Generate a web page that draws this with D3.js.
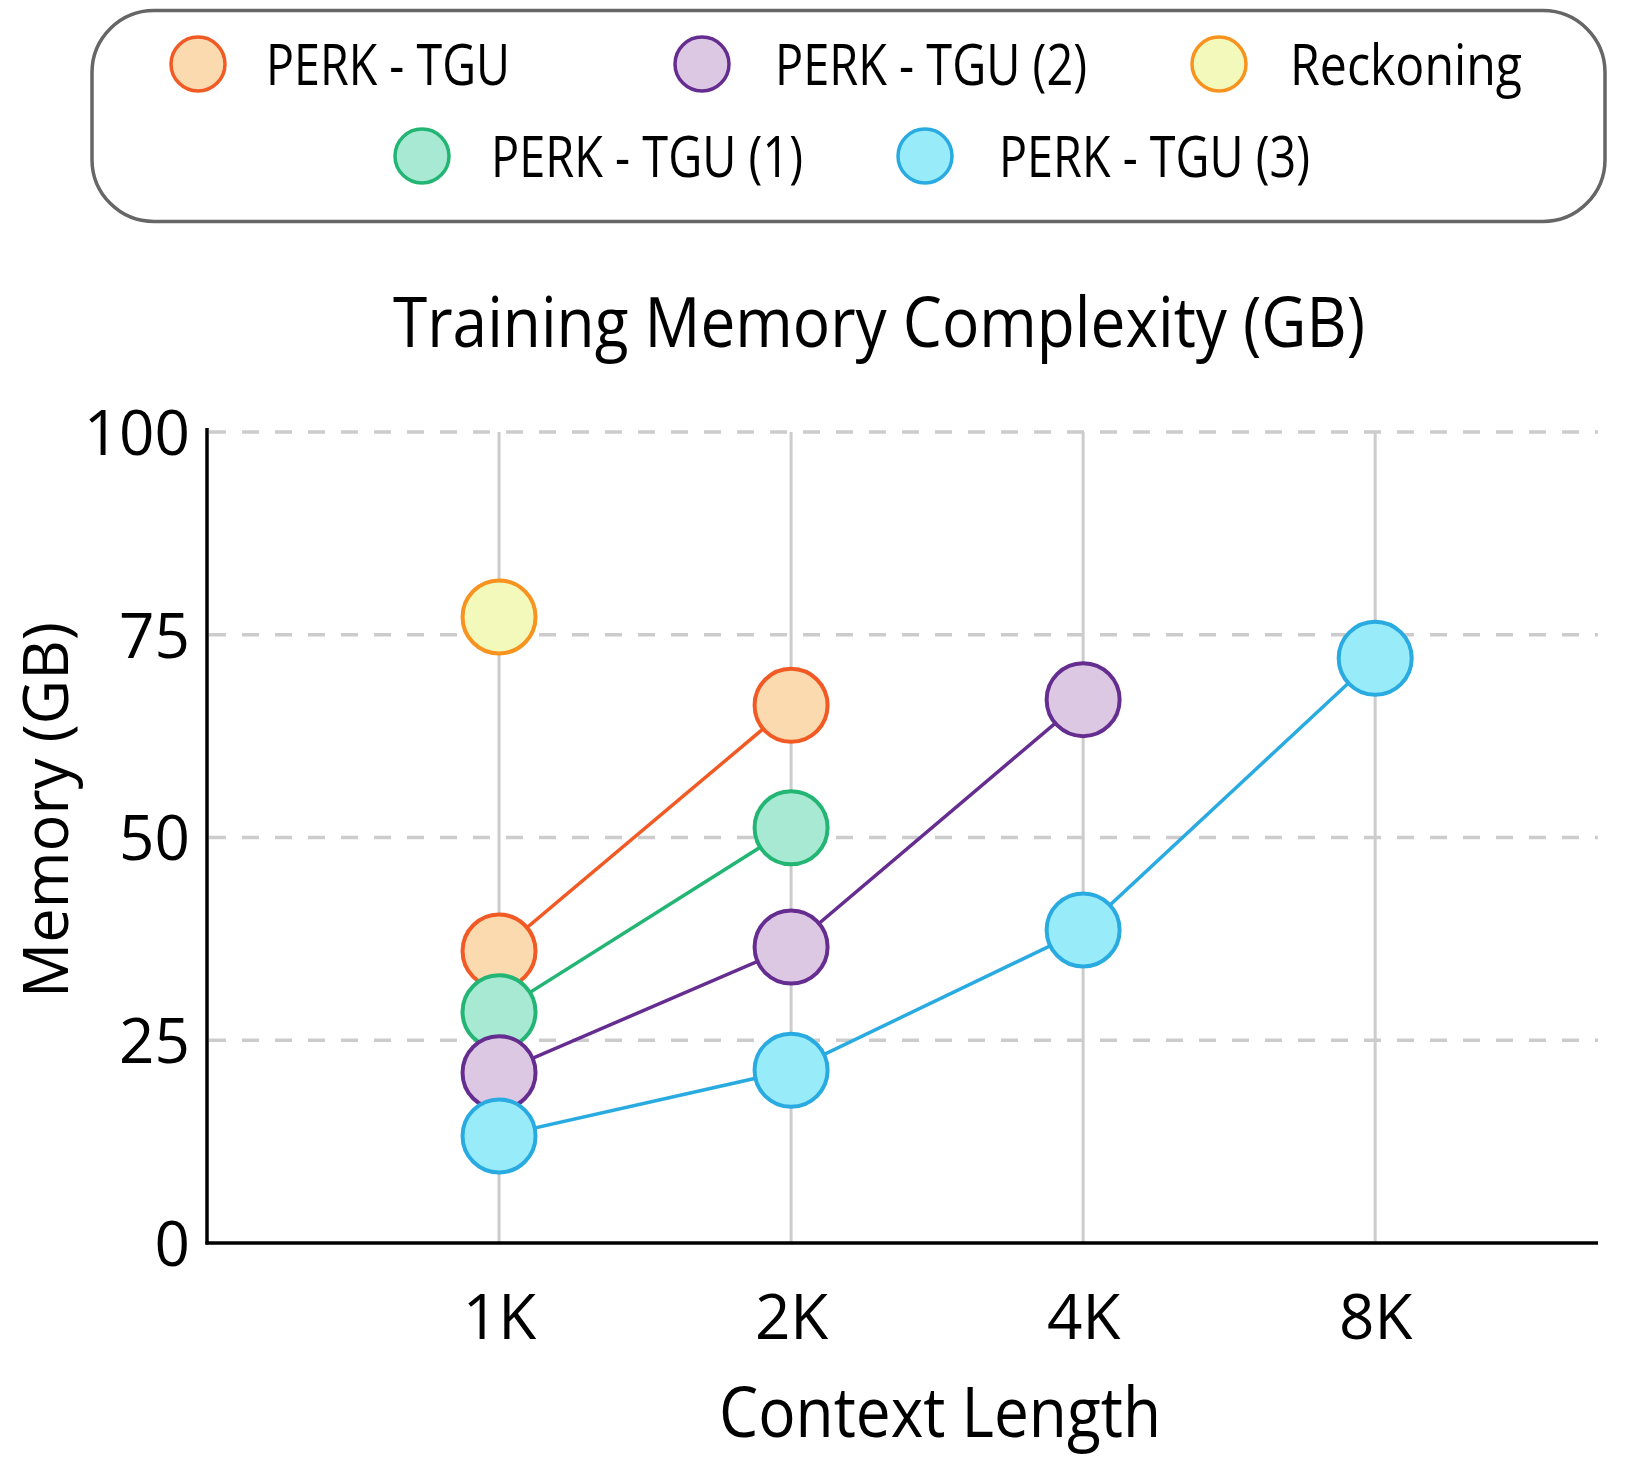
<!DOCTYPE html>
<html>
<head>
<meta charset="utf-8">
<script src="https://cdn.jsdelivr.net/npm/d3@7"></script>
<style>
  html, body { margin: 0; padding: 0; background: #fff; }
  svg text { font-family: "Open Sans", "Noto Sans", sans-serif; fill: #000; }
</style>
</head>
<body>
<svg id="chart" width="1630" height="1464"></svg>
<script>
// ---- data ----
const categories = ["1K", "2K", "4K", "8K"];
const seriesNames = ["PERK - TGU", "PERK - TGU (1)", "PERK - TGU (2)", "PERK - TGU (3)", "Reckoning"];
const perkTGU  = [36.0, 66.3];
const perkTGU1 = [28.5, 51.2];
const perkTGU2 = [21.0, 36.5, 67.0];
const perkTGU3 = [13.2, 21.3, 38.6, 72.1];
const reckoning = [77.2];
const yTicks = [0, 25, 50, 75, 100];
const legendOrder = ["PERK - TGU", "PERK - TGU (2)", "Reckoning", "PERK - TGU (1)", "PERK - TGU (3)"];

const strokeColors = ["#f15a24", "#22b573", "#662d91", "#29abe2", "#f7931e"];
const fillColors   = ["#fcdab0", "#a8e9d3", "#ddc8e4", "#98ecf9", "#f3f9bb"];

const seriesValues = [perkTGU, perkTGU1, perkTGU2, perkTGU3, reckoning];
const series = seriesNames.map((n, i) => ({
  name: n, stroke: strokeColors[i], fill: fillColors[i],
  points: seriesValues[i].map((v, j) => ({ cat: j, v }))
}));

const svg = d3.select("#chart");

// helper to condense text to a target width
function fit(sel, w) {
  sel.attr("textLength", w).attr("lengthAdjust", "spacingAndGlyphs");
  return sel;
}

// ---- scales ----
const plotLeft = 207, plotRight = 1598, plotTop = 432, plotBottom = 1243;
const x = d3.scaleLinear().domain([0, 4.763]).range([plotLeft, plotRight]);
const y = d3.scaleLinear().domain([0, 100]).range([plotBottom, plotTop]);

// ---- grid ----
const grid = svg.append("g");
grid.selectAll("line.v").data(categories).join("line")
  .attr("x1", (d, i) => x(i + 1)).attr("x2", (d, i) => x(i + 1))
  .attr("y1", y(100)).attr("y2", plotBottom)
  .attr("stroke", "#cccccc").attr("stroke-width", 3);
grid.selectAll("line.h").data(yTicks.filter(t => t > 0)).join("line")
  .attr("x1", plotLeft + 2).attr("x2", plotRight)
  .attr("y1", d => y(d)).attr("y2", d => y(d))
  .attr("stroke", "#cccccc").attr("stroke-width", 3.5)
  .attr("stroke-dasharray", "17,16");

// ---- axes ----
const yAxis = d3.axisLeft(y).tickValues(yTicks).tickSize(0).tickPadding(17);
const gy = svg.append("g").attr("transform", `translate(${plotLeft},0)`).call(yAxis);
gy.select(".domain").remove();
gy.selectAll("text").style("font-size", "62px").attr("dy", "0.36em");
svg.append("line").attr("x1", plotLeft).attr("x2", plotLeft)
  .attr("y1", y(100) - 4).attr("y2", plotBottom + 1.5)
  .attr("stroke", "#000").attr("stroke-width", 3.5);

const xAxis = d3.axisBottom(x).tickValues([1, 2, 3, 4]).tickFormat(d => categories[d - 1]).tickSize(0).tickPadding(52);
const gx = svg.append("g").attr("transform", `translate(0,${plotBottom})`).call(xAxis);
gx.select(".domain").remove();
gx.selectAll("text").style("font-size", "62px").attr("dy", "0.71em");
svg.append("line").attr("x1", plotLeft - 1.5).attr("x2", plotRight)
  .attr("y1", plotBottom).attr("y2", plotBottom)
  .attr("stroke", "#000").attr("stroke-width", 3.5);

// ---- series ----
const line = d3.line().x(d => x(d.cat + 1)).y(d => y(d.v));
series.forEach(s => {
  const g = svg.append("g");
  g.append("path").datum(s.points).attr("d", line)
    .attr("fill", "none").attr("stroke", s.stroke).attr("stroke-width", 3.5);
  g.selectAll("circle").data(s.points).join("circle")
    .attr("cx", d => x(d.cat + 1)).attr("cy", d => y(d.v)).attr("r", 36.5)
    .attr("fill", s.fill).attr("stroke", s.stroke).attr("stroke-width", 4);
});

// ---- titles ----
fit(svg.append("text").attr("x", 879).attr("y", 347).attr("text-anchor", "middle")
  .style("font-size", "70px").text("Training Memory Complexity (GB)"), 972);
fit(svg.append("text").attr("x", 940).attr("y", 1437).attr("text-anchor", "middle")
  .style("font-size", "70px").text("Context Length"), 442);
fit(svg.append("text").attr("transform", "translate(68,810) rotate(-90)").attr("text-anchor", "middle")
  .style("font-size", "63px").text("Memory (GB)"), 376);

// ---- legend ----
svg.append("rect").attr("x", 92).attr("y", 10.5).attr("width", 1513).attr("height", 211)
  .attr("rx", 62).attr("ry", 62).attr("fill", "#fff").attr("stroke", "#666").attr("stroke-width", 3.5);
const legendPos = [
  { cx: 198, cy: 64, tx: 266, w: 244 },
  { cx: 702, cy: 64, tx: 775, w: 312 },
  { cx: 1219, cy: 64, tx: 1290, w: 232 },
  { cx: 422, cy: 156, tx: 491, w: 312 },
  { cx: 925, cy: 156, tx: 999, w: 311 }
];
legendOrder.forEach((name, i) => {
  const s = series.find(d => d.name === name);
  const p = legendPos[i];
  svg.append("circle").attr("cx", p.cx).attr("cy", p.cy).attr("r", 27)
    .attr("fill", s.fill).attr("stroke", s.stroke).attr("stroke-width", 3.5);
  fit(svg.append("text").attr("x", p.tx).attr("y", p.cy + 21)
    .style("font-size", "57px").text(name), p.w);
});
</script>
</body>
</html>
